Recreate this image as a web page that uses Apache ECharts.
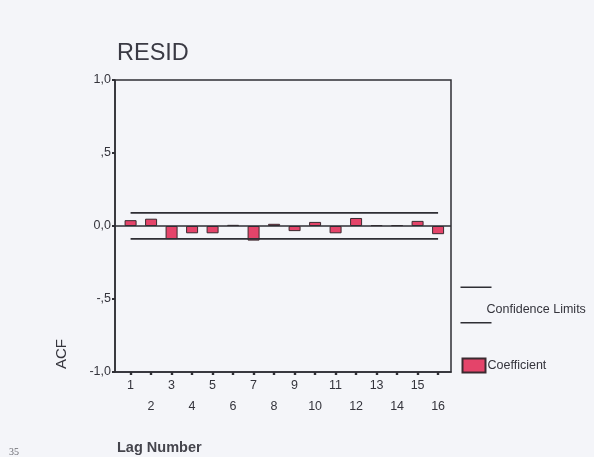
<!DOCTYPE html>
<html>
<head>
<meta charset="utf-8">
<script src="https://cdn.jsdelivr.net/npm/echarts@6/dist/echarts.min.js"></script>
<style>
html,body{margin:0;padding:0;background:#f4f5f9;}
#c{width:594px;height:457px;}
</style>
</head>
<body>
<div id="c"></div>
<script>
// ---- data ----
var lags = [1, 2, 3, 4, 5, 6, 7, 8, 9, 10, 11, 12, 13, 14, 15, 16];
var acf = [0.04, 0.05, -0.09, -0.05, -0.05, 0.008, -0.10, 0.015, -0.035, 0.028, -0.05, 0.055, 0.006, 0.006, 0.035, -0.056];
var upperLimit = [0.09, 0.09, 0.09, 0.09, 0.09, 0.09, 0.09, 0.09, 0.09, 0.09, 0.09, 0.09, 0.09, 0.09, 0.09, 0.09];
var lowerLimit = [-0.088, -0.088, -0.088, -0.088, -0.088, -0.088, -0.088, -0.088, -0.088, -0.088, -0.088, -0.088, -0.088, -0.088, -0.088, -0.088];
var yTickValues = [-1, -0.5, 0, 0.5, 1];
var yTickLabels = ['-1,0', '-,5', '0,0', ',5', '1,0'];
var xTickLabels = ['1', '2', '3', '4', '5', '6', '7', '8', '9', '10', '11', '12', '13', '14', '15', '16'];

var FONT = 'Liberation Sans, Arial, sans-serif';
var INK = '#34343c';

var chart = echarts.init(document.getElementById('c'), null, {renderer: 'canvas'});

function pairs(ys) { return lags.map(function (l, i) { return [l, ys[i]]; }); }

var option = {
  backgroundColor: '#f4f5f9',
  animation: false,
  title: {
    text: 'RESID',
    left: 117, top: 42, padding: 0,
    textStyle: {fontFamily: FONT, fontSize: 23.5, fontWeight: 'normal', color: '#3a3a44'}
  },
  grid: {
    left: 115, right: 143, top: 80, bottom: 85,
    show: true, borderColor: '#2e2e34', borderWidth: 1.5,
    backgroundColor: 'transparent',
    outerBoundsMode: 'none'
  },
  legend: [{
    data: [{
      name: 'Confidence Limits',
      icon: 'path://M0,0H31V1.6H0Z M0,35.4H31V37H0Z',
      itemStyle: {color: '#2e2e34', borderWidth: 0}
    }],
    left: 460.5, top: 286.5, padding: 0,
    itemWidth: 31, itemHeight: 37,
    selectedMode: false,
    formatter: function (name) { return '\n' + name; },
    textStyle: {fontFamily: FONT, fontSize: 12.5, color: INK, lineHeight: 10, padding: [0, 0, 0, -10]}
  }, {
    data: [{name: 'Coefficient', icon: 'rect'}],
    left: 461.5, top: 357.5, padding: 0,
    itemWidth: 23, itemHeight: 14,
    selectedMode: false,
    textStyle: {fontFamily: FONT, fontSize: 12.5, color: INK, padding: [0, 0, 0, -3]}
  }],
  xAxis: {
    type: 'value',
    min: 0.24, max: 16.63,
    splitLine: {show: false},
    axisLine: {show: true, onZero: false, lineStyle: {color: '#2e2e34', width: 1.5}},
    axisTick: {show: true, customValues: lags, length: 3, lineStyle: {color: '#2e2e34', width: 2.4}},
    axisLabel: {
      customValues: lags,
      margin: 3,
      lineHeight: 21,
      fontFamily: FONT, fontSize: 12.5, color: INK,
      formatter: function (v) {
        var i = lags.indexOf(Math.round(v));
        var t = xTickLabels[i];
        return (Math.round(v) % 2 === 0) ? '\n' + t : t;
      }
    }
  },
  yAxis: {
    type: 'value',
    min: -1, max: 1, interval: 0.5,
    splitLine: {show: false},
    axisLine: {show: true, onZero: false, lineStyle: {color: '#2e2e34', width: 1.5}},
    axisTick: {show: true, length: 3, lineStyle: {color: '#2e2e34', width: 2}},
    axisLabel: {
      margin: 4,
      fontFamily: FONT, fontSize: 12.5, color: INK,
      padding: [0, 0, 8, 0],
      formatter: function (v) {
        var i = yTickValues.indexOf(Math.round(v * 10) / 10);
        return i >= 0 ? yTickLabels[i] : '';
      }
    }
  },
  graphic: [
    {type: 'text', x: 61.5, y: 354, rotation: Math.PI / 2,
     style: {text: 'ACF', fontFamily: FONT, fontSize: 15, fill: INK, textAlign: 'center', textVerticalAlign: 'middle', verticalAlign: 'middle'}},
    {type: 'text', x: 117, y: 448,
     style: {text: 'Lag Number', fontFamily: FONT, fontSize: 14.5, fontWeight: 'bold', fill: '#45454d', textAlign: 'left', textVerticalAlign: 'middle', verticalAlign: 'middle'}},
    {type: 'text', x: 9, y: 452,
     style: {text: '35', fontFamily: 'Liberation Serif, serif', fontSize: 10, fill: '#6a6a70', textAlign: 'left', textVerticalAlign: 'middle', verticalAlign: 'middle'}}
  ],
  series: [{
    name: 'Coefficient',
    type: 'bar',
    barWidth: 12,
    data: pairs(acf),
    itemStyle: {color: '#e4446a', borderColor: '#3a2a30', borderWidth: 1},
    markLine: {
      silent: true, symbol: 'none',
      label: {show: false},
      lineStyle: {color: '#2e2e34', width: 1.5, type: 'solid'},
      data: [{yAxis: 0}]
    },
    z: 3
  }, {
    name: 'Confidence Limits',
    type: 'line',
    data: pairs(upperLimit),
    symbol: 'none',
    color: '#2e2e34',
    lineStyle: {color: '#2e2e34', width: 1.6}
  }, {
    name: 'Confidence Limits',
    type: 'line',
    data: pairs(lowerLimit),
    symbol: 'none',
    color: '#2e2e34',
    lineStyle: {color: '#2e2e34', width: 1.6}
  }]
};
chart.setOption(option);
</script>
</body>
</html>
